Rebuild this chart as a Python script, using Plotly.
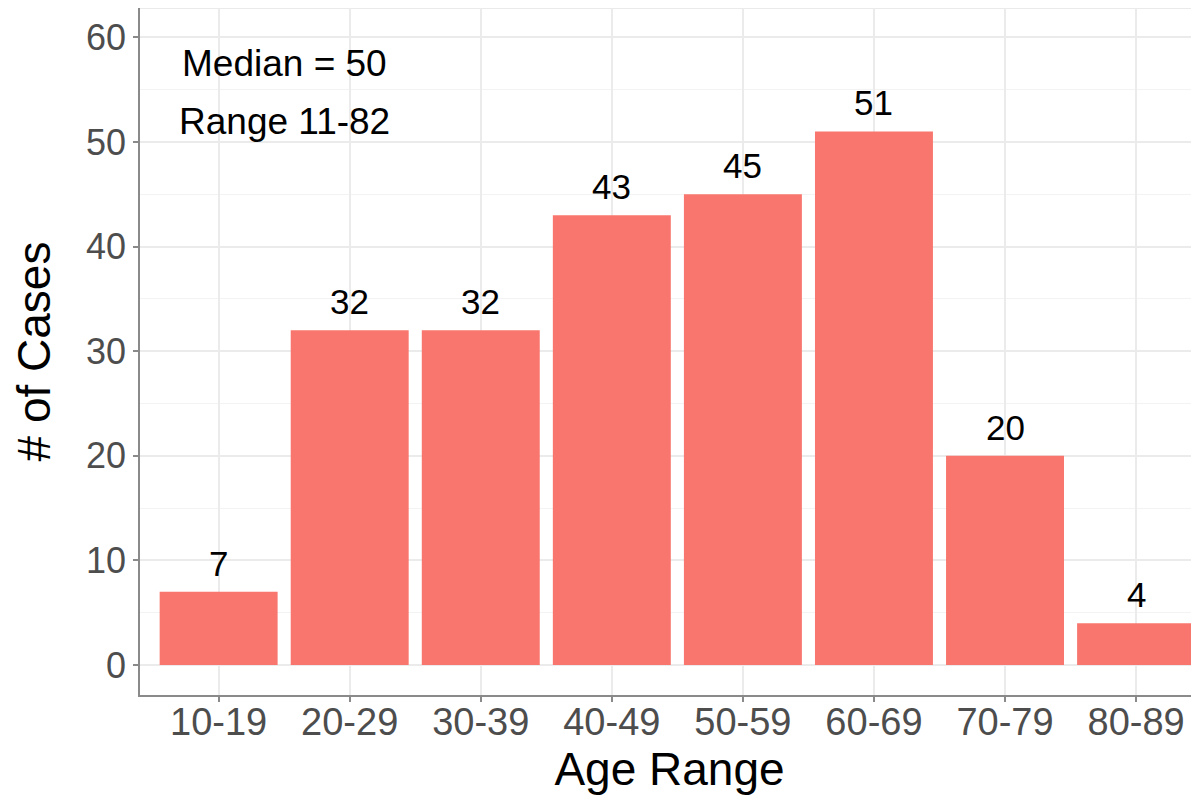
import plotly.graph_objects as go

categories = ["10-19", "20-29", "30-39", "40-49", "50-59", "60-69", "70-79", "80-89"]
cases = [7, 32, 32, 43, 45, 51, 20, 4]
note_lines = ["Median = 50", "Range 11-82"]
note_y = [57.5, 52.0]
y_ticks = [0, 10, 20, 30, 40, 50, 60]

BAR = "#F8766D"
FONT = "Liberation Sans, Arial, Helvetica, sans-serif"

fig = go.Figure()
fig.add_trace(go.Bar(
    x=categories, y=cases, width=0.9,
    marker=dict(color=BAR, line=dict(width=0)),
    hoverinfo="x+y",
))

for c, v in zip(categories, cases):
    fig.add_annotation(x=c, y=v, text=str(v), showarrow=False,
                       yanchor="bottom", yshift=7,
                       font=dict(family=FONT, size=35, color="black"))

for t, yy in zip(note_lines, note_y):
    fig.add_annotation(x=0.5, y=yy, text=t, showarrow=False,
                       xanchor="center", yanchor="middle",
                       font=dict(family=FONT, size=37, color="black"))

# light top border of panel
fig.add_shape(type="line", xref="paper", yref="paper", x0=0, x1=1, y0=1, y1=1,
              line=dict(color="#E3E3E3", width=1.5), layer="below")

# page body has an 8px margin, so the figure is sized to fill the rest of the window
fig.update_layout(
    width=1191, height=789,
    margin=dict(l=132, r=0, t=0, b=102, autoexpand=False),
    paper_bgcolor="white", plot_bgcolor="white",
    showlegend=False,
    font=dict(family=FONT),
    bargap=0.1,
)
fig.update_xaxes(
    type="category", categoryorder="array", categoryarray=categories,
    range=[-0.6, 7.48], automargin=False,
    showgrid=True, gridcolor="#EBEBEB", gridwidth=1.5,
    showline=True, linecolor="#8A8A8A", linewidth=1.5,
    ticks="outside", ticklen=5, tickcolor="#8A8A8A", tickwidth=1.5,
    ticklabelstandoff=-12,
    tickfont=dict(family=FONT, size=38, color="#4D4D4D"),
    title=dict(text="Age Range", font=dict(family=FONT, size=46, color="black"), standoff=0),
    zeroline=False,
)
fig.update_yaxes(
    range=[-2.86, 62.8], automargin=False,
    tickmode="array", tickvals=y_ticks,
    showgrid=True, gridcolor="#EBEBEB", gridwidth=1.5,
    minor=dict(dtick=5, tick0=5, showgrid=True, gridcolor="#F3F3F3", gridwidth=1),
    showline=True, linecolor="#8A8A8A", linewidth=1.5,
    ticks="outside", ticklen=5, tickcolor="#8A8A8A", tickwidth=1.5,
    tickfont=dict(family=FONT, size=36, color="#4D4D4D"),
    title=dict(text="# of Cases", font=dict(family=FONT, size=46, color="black"), standoff=33),
    zeroline=False,
)

fig.write_html("out.html")
